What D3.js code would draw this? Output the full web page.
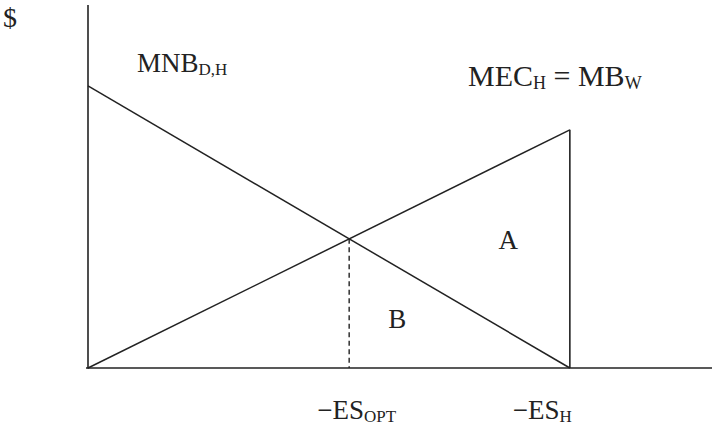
<!DOCTYPE html>
<html><head><meta charset="utf-8">
<script src="https://cdn.jsdelivr.net/npm/d3@7"></script>
<style>body{margin:0;background:#fff}text{font-family:"Liberation Serif","Times New Roman",serif;fill:#222}</style>
</head><body><svg id="c" width="728" height="426"></svg>
<script>
// quantity of ES (x) in units where ES_H = 100; $ (y) in arbitrary units
const xDomain = [0, 129.5];
const yDomain = [0, 100];
const mnbLine = [{x: 0, y: 77.7}, {x: 100, y: 0}];      // MNB_D,H
const mecLine = [{x: 0, y: 0}, {x: 100, y: 65.6}];      // MEC_H = MB_W
const esOpt = {x: 54.2, y: 35.6};
const esH = {x: 100, y: 65.6};
const xTickLabels = [{x: 54.2, main: "\u2212ES", sub: "OPT", dx: -32, anchor: "start"},
                     {x: 100, main: "\u2212ES", sub: "H", dx: 2, anchor: "end"}];
const areaLabels = [{x: 87.2, y: 32.8, t: "A"}, {x: 64.2, y: 11, t: "B"}];

const svg = d3.select("#c");
const x = d3.scaleLinear().domain(xDomain).range([88, 712]);
const y = d3.scaleLinear().domain(yDomain).range([368, 5]);
const stroke = "#222";

// axes
svg.append("line").attr("x1", x(0)).attr("x2", x(0)).attr("y1", y(100)).attr("y2", y(0)+0.5)
  .attr("stroke", stroke).attr("stroke-width", 1.6);
svg.append("line").attr("x1", x(0)-2).attr("x2", x(xDomain[1])).attr("y1", y(0)).attr("y2", y(0))
  .attr("stroke", stroke).attr("stroke-width", 1.6);

const line = d3.line().x(d => x(d.x)).y(d => y(d.y));
svg.append("path").attr("d", line(mnbLine)).attr("fill", "none").attr("stroke", stroke).attr("stroke-width", 1.5);
svg.append("path").attr("d", line(mecLine)).attr("fill", "none").attr("stroke", stroke).attr("stroke-width", 1.5);
svg.append("line").attr("x1", x(esH.x)).attr("x2", x(esH.x)).attr("y1", y(esH.y)).attr("y2", y(0))
  .attr("stroke", stroke).attr("stroke-width", 1.6);
svg.append("line").attr("x1", x(esOpt.x)).attr("x2", x(esOpt.x)).attr("y1", y(esOpt.y)).attr("y2", y(0))
  .attr("stroke", stroke).attr("stroke-width", 1.4).attr("stroke-dasharray", "5,3.5");

const fs = 27, sfs = 17;
function label(px, py, parts, size, subSize, anchor) {
  const t = svg.append("text").attr("x", px).attr("y", py).attr("font-size", size).attr("text-anchor", anchor || "start");
  parts.forEach((p, i) => {
    const isSub = i % 2 === 1;
    t.append("tspan").attr("font-size", isSub ? subSize : size).attr("dy", i === 0 ? 0 : (isSub ? 3 : -3)).text(p);
  });
  return t;
}
svg.append("text").attr("x", 3).attr("y", 27).attr("font-size", 28).text("$");
label(137, 72, ["MNB", "D,H"], fs, sfs);
label(468, 86, ["MEC", "H", " = MB", "W"], 30, 18);
areaLabels.forEach(d => svg.append("text").attr("x", x(d.x)).attr("y", y(d.y)).attr("font-size", fs)
  .attr("text-anchor", "middle").text(d.t));
xTickLabels.forEach(d => label(x(d.x) + d.dx, 419, [d.main, d.sub], fs, sfs, d.anchor));
</script></body></html>
